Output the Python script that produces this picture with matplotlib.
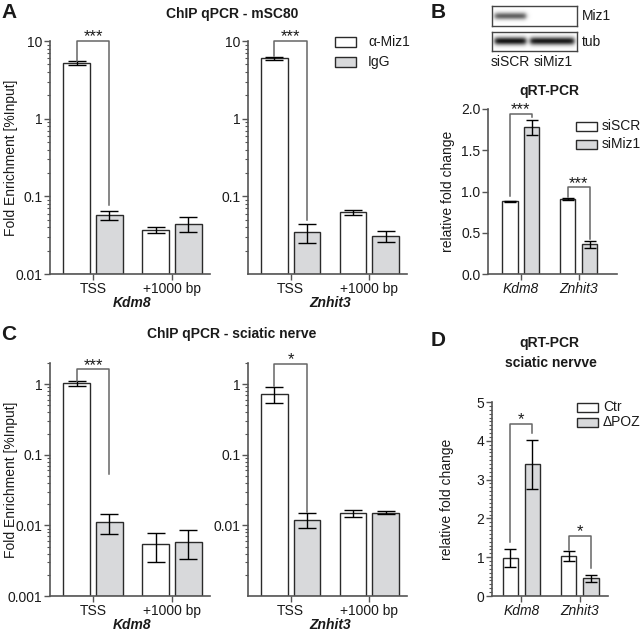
import numpy as np
import matplotlib
matplotlib.use('Agg')
import matplotlib.pyplot as plt
from matplotlib import ticker
from matplotlib.patches import Rectangle

plt.rcParams['font.family'] = ['Liberation Sans', 'DejaVu Sans']

# ---------------- data ----------------
chip_sites = ['TSS', '+1000 bp']
chip_series = ['\u03b1-Miz1', 'IgG']
genes = ['Kdm8', 'Znhit3']

# Panel A: ChIP qPCR - mSC80 (mean, lower, upper)
a_kdm8_miz1 = [5.2, 0.037]
a_kdm8_miz1_lo = [4.9, 0.034]
a_kdm8_miz1_hi = [5.5, 0.040]
a_kdm8_igg = [0.058, 0.044]
a_kdm8_igg_lo = [0.050, 0.035]
a_kdm8_igg_hi = [0.065, 0.054]

a_znhit3_miz1 = [6.0, 0.062]
a_znhit3_miz1_lo = [5.7, 0.057]
a_znhit3_miz1_hi = [6.3, 0.066]
a_znhit3_igg = [0.035, 0.031]
a_znhit3_igg_lo = [0.025, 0.026]
a_znhit3_igg_hi = [0.044, 0.036]

# Panel C: ChIP qPCR - sciatic nerve
c_kdm8_miz1 = [1.03, 0.0054]
c_kdm8_miz1_lo = [0.95, 0.0030]
c_kdm8_miz1_hi = [1.10, 0.0078]
c_kdm8_igg = [0.011, 0.0058]
c_kdm8_igg_lo = [0.0075, 0.0033]
c_kdm8_igg_hi = [0.0145, 0.0085]

c_znhit3_miz1 = [0.73, 0.0150]
c_znhit3_miz1_lo = [0.55, 0.0130]
c_znhit3_miz1_hi = [0.92, 0.0166]
c_znhit3_igg = [0.012, 0.0151]
c_znhit3_igg_lo = [0.0093, 0.0144]
c_znhit3_igg_hi = [0.0150, 0.0158]

# Panel B: qRT-PCR siRNA
b_series = ['siSCR', 'siMiz1']
b_siscr = [0.88, 0.91]
b_siscr_err = [0.01, 0.01]
b_simiz1 = [1.78, 0.36]
b_simiz1_err = [0.09, 0.04]

# Panel D: qRT-PCR sciatic nerve
d_series = ['Ctr', '\u0394POZ']
d_ctr = [0.98, 1.03]
d_ctr_err = [0.24, 0.12]
d_dpoz = [3.39, 0.46]
d_dpoz_err = [0.64, 0.09]

# Western blot band intensities (lane siSCR, lane siMiz1)
blot_lanes = ['siSCR', 'siMiz1']
blot_miz1 = [0.65, 0.0]
blot_tub = [0.97, 0.95]

# significance brackets: (group, top, left leg end, right leg end, label)
a_kdm8_sig = [(0, 10.0, 5.6, 0.077, '***')]
a_znhit3_sig = [(0, 10.0, 6.4, 0.050, '***')]
c_kdm8_sig = [(0, 1.63, 1.12, 0.054, '***')]
c_znhit3_sig = [(0, 1.95, 0.95, 0.0155, '*')]
b_sig = [(0, 1.94, 0.95, 1.90, '***'), (1, 1.05, 0.93, 0.42, '***')]
d_sig = [(0, 4.43, 1.40, 4.20, '*'), (1, 1.55, 1.19, 0.72, '*')]

# ---------------- style ----------------
W, H = 640, 634
fig = plt.figure(figsize=(W / 100, H / 100), dpi=100)
EDGE = '#2a2a2a'
GRAY = '#d8d9db'
SPINE = '#555555'
LINE = '#666666'
TXT = '#1a1a1a'
FS = 10
TFS = 10


def rect(x0, y0, x1, y1):
    return [x0 / W, 1 - y1 / H, (x1 - x0) / W, (y1 - y0) / H]


def style_axes(ax):
    for s in ['top', 'right']:
        ax.spines[s].set_visible(False)
    for s in ['left', 'bottom']:
        ax.spines[s].set_color(SPINE)
        ax.spines[s].set_linewidth(1.2)
    ax.tick_params(axis='both', which='major', length=4, width=1, color=SPINE,
                   labelsize=FS, labelcolor=TXT, pad=1.5)
    ax.tick_params(axis='y', which='minor', length=2, width=0.8, color=SPINE)
    ax.tick_params(axis='x', which='minor', length=0)


def brackets(ax, sig, off, fs_star=12):
    for g, top, l_end, r_end, lab in sig:
        x1, x2 = g - off, g + off
        ax.plot([x1, x1, x2, x2], [l_end, top, top, r_end], color=LINE, lw=1.1,
                clip_on=False, zorder=5)
        ax.annotate(lab, xy=((x1 + x2) / 2, top), xytext=(0, -2.5),
                    textcoords='offset points', ha='center', va='bottom',
                    fontsize=fs_star, color=TXT, annotation_clip=False)


def chip_panel(r, miz, miz_lo, miz_hi, igg, igg_lo, igg_hi, ylim, yticks, gene, sig):
    ax = fig.add_axes(r)
    ax.set_yscale('log')
    x = np.arange(len(chip_sites))
    off, w = 0.207, 0.335
    miz = np.array(miz); igg = np.array(igg)
    ax.bar(x - off, miz - ylim[0], bottom=ylim[0], width=w, color='white',
           edgecolor=EDGE, lw=1, zorder=2)
    ax.bar(x + off, igg - ylim[0], bottom=ylim[0], width=w, color=GRAY,
           edgecolor=EDGE, lw=1, zorder=2)
    ax.errorbar(x - off, miz, yerr=[miz - np.array(miz_lo), np.array(miz_hi) - miz],
                fmt='none', ecolor='k', elinewidth=1, capsize=6.5, capthick=1, zorder=3)
    ax.errorbar(x + off, igg, yerr=[igg - np.array(igg_lo), np.array(igg_hi) - igg],
                fmt='none', ecolor='k', elinewidth=1, capsize=6.5, capthick=1, zorder=3)
    ax.set_ylim(*ylim)
    ax.set_xlim(-0.544, 1.48)
    ax.set_yticks(yticks)
    ax.yaxis.set_major_formatter(ticker.FuncFormatter(lambda v, p: f'{v:g}'))
    ax.yaxis.set_minor_locator(ticker.LogLocator(base=10, subs=np.arange(2, 10)))
    ax.yaxis.set_minor_formatter(ticker.NullFormatter())
    ax.set_xticks(x)
    ax.set_xticklabels(chip_sites)
    style_axes(ax)
    ax.annotate(gene, xy=(0.5, 0), xycoords=('data', 'axes fraction'),
                xytext=(0, -21), textcoords='offset points', ha='center', va='center',
                fontsize=FS, fontweight='bold', fontstyle='italic', color=TXT,
                annotation_clip=False)
    brackets(ax, sig, off)
    return ax


def legend_boxes(x0, ys, labels, fill_colors, gap):
    for y, lab, fc in zip(ys, labels, fill_colors):
        fig.add_artist(Rectangle((x0 / W, 1 - (y + 4.5) / H), 21 / W, 9 / H,
                                 transform=fig.transFigure, facecolor=fc,
                                 edgecolor=EDGE, lw=1))
        fig.text((x0 + 21 + gap) / W, 1 - y / H, lab, fontsize=FS, va='center',
                 ha='left', color=TXT)


# ---------------- Panel A ----------------
ax_a1 = chip_panel(rect(50, 41, 210, 274), a_kdm8_miz1, a_kdm8_miz1_lo, a_kdm8_miz1_hi,
                   a_kdm8_igg, a_kdm8_igg_lo, a_kdm8_igg_hi, (0.01, 10),
                   [0.01, 0.1, 1, 10], genes[0], a_kdm8_sig)
ax_a1.set_ylabel('Fold Enrichment [%Input]', fontsize=FS, color=TXT)
ax_a1.yaxis.set_label_coords(-0.2, 0.5)
ax_a2 = chip_panel(rect(248, 41, 407, 274), a_znhit3_miz1, a_znhit3_miz1_lo,
                   a_znhit3_miz1_hi, a_znhit3_igg, a_znhit3_igg_lo, a_znhit3_igg_hi,
                   (0.01, 10), [0.1, 1, 10], genes[1], a_znhit3_sig)
fig.text(232 / W, 1 - 14 / H, 'ChIP qPCR - mSC80', fontsize=TFS, fontweight='bold',
         ha='center', va='center', color=TXT)
fig.text(1 / W, 1 - 12 / H, 'A', fontsize=15, fontweight='bold', ha='left',
         va='center', color=TXT)
legend_boxes(335, [42, 62], chip_series, ['white', GRAY], 12)

# ---------------- Panel C ----------------
ax_c1 = chip_panel(rect(50, 363, 210, 596), c_kdm8_miz1, c_kdm8_miz1_lo, c_kdm8_miz1_hi,
                   c_kdm8_igg, c_kdm8_igg_lo, c_kdm8_igg_hi, (0.001, 2),
                   [0.001, 0.01, 0.1, 1], genes[0], c_kdm8_sig)
ax_c1.set_ylabel('Fold Enrichment [%Input]', fontsize=FS, color=TXT)
ax_c1.yaxis.set_label_coords(-0.2, 0.5)
ax_c2 = chip_panel(rect(248, 363, 407, 596), c_znhit3_miz1, c_znhit3_miz1_lo,
                   c_znhit3_miz1_hi, c_znhit3_igg, c_znhit3_igg_lo, c_znhit3_igg_hi,
                   (0.001, 2), [0.01, 0.1, 1], genes[1], c_znhit3_sig)
fig.text(232 / W, 1 - 334 / H, 'ChIP qPCR - sciatic nerve', fontsize=TFS,
         fontweight='bold', ha='center', va='center', color=TXT)
fig.text(1 / W, 1 - 334 / H, 'C', fontsize=15, fontweight='bold', ha='left',
         va='center', color=TXT)


# ---------------- Panels B & D (linear) ----------------
def qpcr_panel(r, s1, s1e, s2, s2e, ylim, yticks, fmt, sig, xlim, minor=None):
    ax = fig.add_axes(r)
    x = np.arange(len(genes))
    off, w = 0.19, 0.26
    ax.bar(x - off, s1, width=w, color='white', edgecolor=EDGE, lw=1, zorder=2)
    ax.bar(x + off, s2, width=w, color=GRAY, edgecolor=EDGE, lw=1, zorder=2)
    ax.errorbar(x - off, s1, yerr=s1e, fmt='none', ecolor='k', elinewidth=1,
                capsize=4.5, capthick=1, zorder=3)
    ax.errorbar(x + off, s2, yerr=s2e, fmt='none', ecolor='k', elinewidth=1,
                capsize=4.5, capthick=1, zorder=3)
    ax.set_ylim(*ylim)
    ax.set_xlim(*xlim)
    ax.set_yticks(yticks)
    ax.yaxis.set_major_formatter(ticker.FormatStrFormatter(fmt))
    if minor:
        ax.yaxis.set_minor_locator(ticker.MultipleLocator(minor))
    ax.set_xticks(x)
    ax.set_xticklabels(genes, fontstyle='italic')
    style_axes(ax)
    ax.set_ylabel('relative fold change', fontsize=FS, color=TXT)
    brackets(ax, sig, off)
    return ax


ax_b = qpcr_panel(rect(488, 109, 617, 274), b_siscr, b_siscr_err, b_simiz1, b_simiz1_err,
                  (0, 2.0), [0, 0.5, 1.0, 1.5, 2.0], '%.1f', b_sig, (-0.57, 1.66))
ax_b.yaxis.set_label_coords(-0.256, 0.5)
fig.text(549 / W, 1 - 91 / H, 'qRT-PCR', fontsize=TFS, fontweight='bold',
         ha='center', va='center', color=TXT)
fig.text(438 / W, 1 - 12 / H, 'B', fontsize=15, fontweight='bold', ha='center',
         va='center', color=TXT)
legend_boxes(576, [126, 144], b_series, ['white', GRAY], 5)

ax_d = qpcr_panel(rect(492, 402, 608, 596), d_ctr, d_ctr_err, d_dpoz, d_dpoz_err,
                  (0, 5), [0, 1, 2, 3, 4, 5], '%d', d_sig, (-0.50, 1.48), minor=0.1)
ax_d.yaxis.set_label_coords(-0.33, 0.5)
fig.text(549 / W, 1 - 343 / H, 'qRT-PCR', fontsize=TFS, fontweight='bold',
         ha='center', va='center', color=TXT)
fig.text(551 / W, 1 - 363 / H, 'sciatic nervve', fontsize=TFS, fontweight='bold',
         ha='center', va='center', color=TXT)
fig.text(438 / W, 1 - 341 / H, 'D', fontsize=15, fontweight='bold', ha='center',
         va='center', color=TXT)
legend_boxes(577, [407, 422], d_series, ['white', GRAY], 5)


# ---------------- Western blot ----------------
def blot(r, intens, label, sigma):
    ax = fig.add_axes(r)
    nx, ny = 170, 40
    xx = np.linspace(0, 1, nx)
    yy = np.linspace(0, 1, ny)
    img = np.zeros((ny, nx))
    lanes = [(0.03, 0.40), (0.45, 0.97)]
    for (a, b), v in zip(lanes, intens):
        xm = 1 / (1 + np.exp(-(xx - a) / 0.015)) * 1 / (1 + np.exp((xx - b) / 0.015))
        ym = np.exp(-((yy - 0.5) / sigma) ** 2)
        img += v * np.outer(ym, xm)
    ax.imshow(img, cmap='gray_r', vmin=0, vmax=1.05, aspect='auto',
              extent=(0, 1, 0, 1), interpolation='bilinear')
    ax.set_xticks([]); ax.set_yticks([])
    for s in ax.spines.values():
        s.set_color('#444444'); s.set_linewidth(1)
    fig.text((r[0] + r[2]) + 5 / W, r[1] + r[3] / 2, label, fontsize=FS,
             va='center', ha='left', color=TXT)
    return ax


blot(rect(492, 6, 577, 26), blot_miz1, 'Miz1', 0.18)
blot(rect(492, 32, 577, 51), blot_tub, 'tub', 0.2)
fig.text(510 / W, 1 - 62 / H, blot_lanes[0], fontsize=FS, ha='center', va='center', color=TXT)
fig.text(553 / W, 1 - 62 / H, blot_lanes[1], fontsize=FS, ha='center', va='center', color=TXT)

fig.savefig('out.png', dpi=100)
